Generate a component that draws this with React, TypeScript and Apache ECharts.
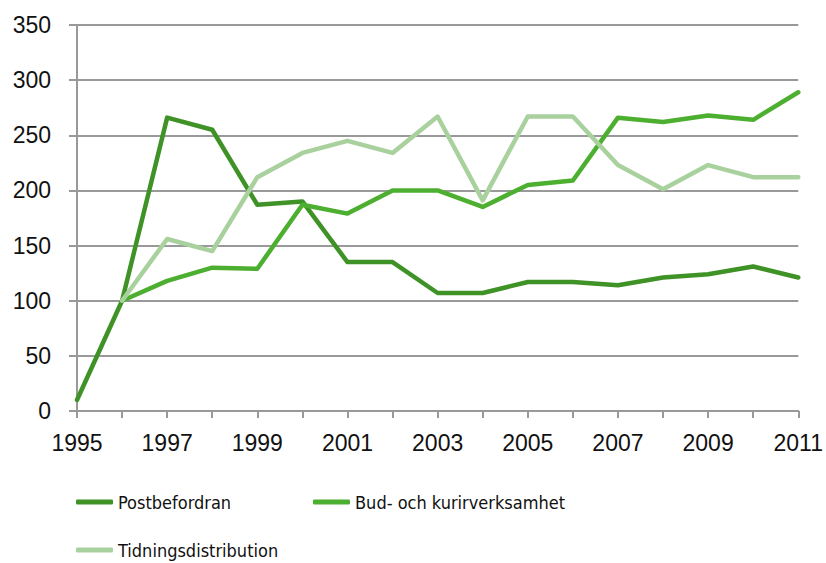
import React, { useEffect, useRef } from "react";
import * as echarts from "echarts";

const years = ["1995","1996","1997","1998","1999","2000","2001","2002","2003","2004","2005","2006","2007","2008","2009","2010","2011"];
const postbefordran = [10, 100, 266, 255, 187, 190, 135, 135, 107, 107, 117, 117, 114, 121, 124, 131, 121];
const budKurir = [null, 100, 118, 130, 129, 187, 179, 200, 200, 185, 205, 209, 266, 262, 268, 264, 289];
const tidning = [null, 100, 156, 145, 212, 234, 245, 234, 267, 191, 267, 267, 223, 201, 223, 212, 212];
const seriesNames = ["Postbefordran", "Bud- och kurirverksamhet", "Tidningsdistribution"];
const colors = ["#3f9226", "#4daf2f", "#a9d19e"];

export default function App() {
  const ref = useRef<HTMLDivElement>(null);
  useEffect(() => {
    if (!ref.current) return;
    const chart = echarts.init(ref.current, null, { renderer: "svg" });
    const axisFont = { fontFamily: "Liberation Sans, Arial, sans-serif", fontSize: 23, color: "#111" };
    const legendFont = { fontFamily: "DejaVu Sans Condensed, Liberation Sans, sans-serif", fontSize: 18, color: "#111" };
    const mk = (name: string, data: (number | null)[], color: string) => ({
      name,
      type: "line",
      data,
      showSymbol: false,
      symbol: "none",
      connectNulls: false,
      lineStyle: { color, width: 4.5, cap: "round", join: "round" },
      itemStyle: { color },
    });
    const legendBase = { icon: "roundRect", itemWidth: 37, itemHeight: 5, padding: 0, textStyle: legendFont };
    chart.setOption({
      animation: false,
      grid: { left: 77, right: 27, top: 25, bottom: 152, containLabel: false },
      xAxis: {
        type: "category",
        data: years,
        boundaryGap: false,
        axisLine: { show: true, lineStyle: { color: "#999", width: 2 } },
        axisTick: { show: true, interval: 0, length: 7, lineStyle: { color: "#999", width: 2 } },
        axisLabel: { ...axisFont, interval: 1, margin: 20 },
        splitLine: { show: false },
      },
      yAxis: {
        type: "value",
        min: 0,
        max: 350,
        interval: 50,
        axisLine: { show: true, lineStyle: { color: "#999", width: 2 } },
        axisTick: { show: true, length: 8, lineStyle: { color: "#999", width: 2 } },
        axisLabel: { ...axisFont, margin: 26 },
        splitLine: { show: true, lineStyle: { color: "#999", width: 2 } },
      },
      legend: [
        { ...legendBase, data: [seriesNames[0]], left: 76, top: 493 },
        { ...legendBase, data: [seriesNames[1]], left: 313, top: 493 },
        { ...legendBase, data: [seriesNames[2]], left: 76, top: 541 },
      ],
      series: [
        mk(seriesNames[0], postbefordran, colors[0]),
        mk(seriesNames[1], budKurir, colors[1]),
        mk(seriesNames[2], tidning, colors[2]),
      ],
    });
    return () => chart.dispose();
  }, []);
  return <div ref={ref} style={{ width: 826, height: 563, position: "absolute", left: 0, top: 0 }} />;
}
